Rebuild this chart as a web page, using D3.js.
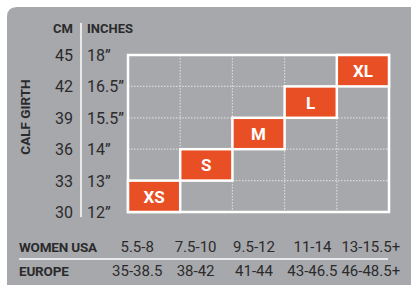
<!DOCTYPE html>
<html><head><meta charset="utf-8">
<script src="https://cdn.jsdelivr.net/npm/d3@7"></script>
<style>
html,body{margin:0;padding:0;background:#fff;}
svg{display:block;}
text{font-family:Roboto,"Open Sans",sans-serif;}
</style></head>
<body>
<script>
const sizes = ["XS","S","M","L","XL"];
const cmLow = [30,33,36,39,42];
const cmHigh = [33,36,39,42,45];
const cmTicks = [30,33,36,39,42,45];
const inchTicks = ["12”","13”","14”","15.5”","16.5”","18”"];
const womenUSA = ["5.5-8","7.5-10","9.5-12","11-14","13-15.5+"];
const europe = ["35-38.5","38-42","41-44","43-46.5","46-48.5+"];

const W = 411, H = 285;
const svg = d3.select("body").append("svg").attr("width",W).attr("height",H);
const gray = "#a7a8ab", orange = "#e84f25", dark = "#2b2b2d";

// background panel with rounded top-left corner
const r = 10, x0 = 7, y0 = 7;
svg.append("path")
  .attr("d",`M${x0},${H} L${x0},${y0+r} Q${x0},${y0} ${x0+r},${y0} L${W},${y0} L${W},${H} Z`)
  .attr("fill",gray);

const x = d3.scaleBand().domain(sizes).range([128,389]).padding(0);
const y = d3.scaleLinear().domain([30,45]).range([212,55]);

// inner dotted grid
const g = svg.append("g");
sizes.slice(1).forEach(s=>{
  g.append("line").attr("x1",x(s)).attr("x2",x(s)).attr("y1",y(45)).attr("y2",y(30))
   .attr("stroke","#d9d9db").attr("stroke-width",1.2).attr("stroke-dasharray","1.5,1.5");
});
cmTicks.slice(1,-1).forEach(t=>{
  g.append("line").attr("x1",x.range()[0]).attr("x2",x.range()[1]).attr("y1",y(t)).attr("y2",y(t))
   .attr("stroke","#d9d9db").attr("stroke-width",1.2).attr("stroke-dasharray","1.5,1.5");
});
// outer border
g.append("rect").attr("x",x.range()[0]).attr("y",y(45)).attr("width",x.range()[1]-x.range()[0])
 .attr("height",y(30)-y(45)).attr("fill","none").attr("stroke","#fff").attr("stroke-width",2.5);

// size boxes
const boxes = g.selectAll("g.box").data(sizes).join("g").attr("class","box");
boxes.append("rect")
  .attr("x",d=>x(d)).attr("y",(d,i)=>y(cmHigh[i]))
  .attr("width",x.bandwidth()).attr("height",(d,i)=>y(cmLow[i])-y(cmHigh[i]))
  .attr("fill",orange).attr("stroke","#fff").attr("stroke-width",2.5);
boxes.append("text")
  .attr("x",d=>x(d)+x.bandwidth()/2).attr("y",(d,i)=>(y(cmLow[i])+y(cmHigh[i]))/2+6.5)
  .attr("text-anchor","middle").attr("fill","#fff").attr("font-weight","bold")
  .attr("font-size",17).text(d=>d);

// axis labels
svg.append("line").attr("x1",81).attr("x2",81).attr("y1",23).attr("y2",217)
  .attr("stroke","#fff").attr("stroke-width",1.5);
svg.append("text").attr("x",73).attr("y",33).attr("text-anchor","end")
  .attr("font-weight","bold").attr("font-size",13).attr("fill",dark).text("CM");
svg.append("text").attr("x",87).attr("y",33)
  .attr("font-weight","bold").attr("font-size",13).attr("fill",dark).text("INCHES");
svg.selectAll("text.cm").data(cmTicks).join("text").attr("class","cm")
  .attr("x",73).attr("y",d=>y(d)+6).attr("text-anchor","end")
  .attr("font-size",16).attr("fill",dark).text(d=>d);
svg.selectAll("text.in").data(inchTicks).join("text").attr("class","in")
  .attr("x",87).attr("y",(d,i)=>y(cmTicks[i])+6)
  .attr("font-size",16).attr("fill",dark).text(d=>d);
svg.append("text").attr("transform","translate(30,117) rotate(-90)")
  .attr("text-anchor","middle").attr("font-weight","bold").attr("font-size",13.5)
  .attr("fill",dark).text("CALF GIRTH");

// bottom rows
const xb = d3.scaleBand().domain(sizes).range([108,400]);
svg.append("text").attr("x",19).attr("y",252).attr("font-weight","bold")
  .attr("font-size",13.5).attr("fill",dark).attr("letter-spacing",-0.2).text("WOMEN USA");
svg.selectAll("text.us").data(womenUSA).join("text").attr("class","us")
  .attr("x",(d,i)=>xb(sizes[i])+xb.bandwidth()/2).attr("y",252).attr("text-anchor","middle")
  .attr("font-size",15).attr("fill",dark).text(d=>d);
svg.append("line").attr("x1",19).attr("x2",388).attr("y1",259).attr("y2",259)
  .attr("stroke","#fff").attr("stroke-width",1.5);
svg.append("text").attr("x",19).attr("y",276).attr("font-weight","bold")
  .attr("font-size",13.5).attr("fill",dark).attr("letter-spacing",-0.2).text("EUROPE");
svg.selectAll("text.eu").data(europe).join("text").attr("class","eu")
  .attr("x",(d,i)=>xb(sizes[i])+xb.bandwidth()/2).attr("y",276).attr("text-anchor","middle")
  .attr("font-size",15).attr("fill",dark).text(d=>d);
</script>
</body></html>
